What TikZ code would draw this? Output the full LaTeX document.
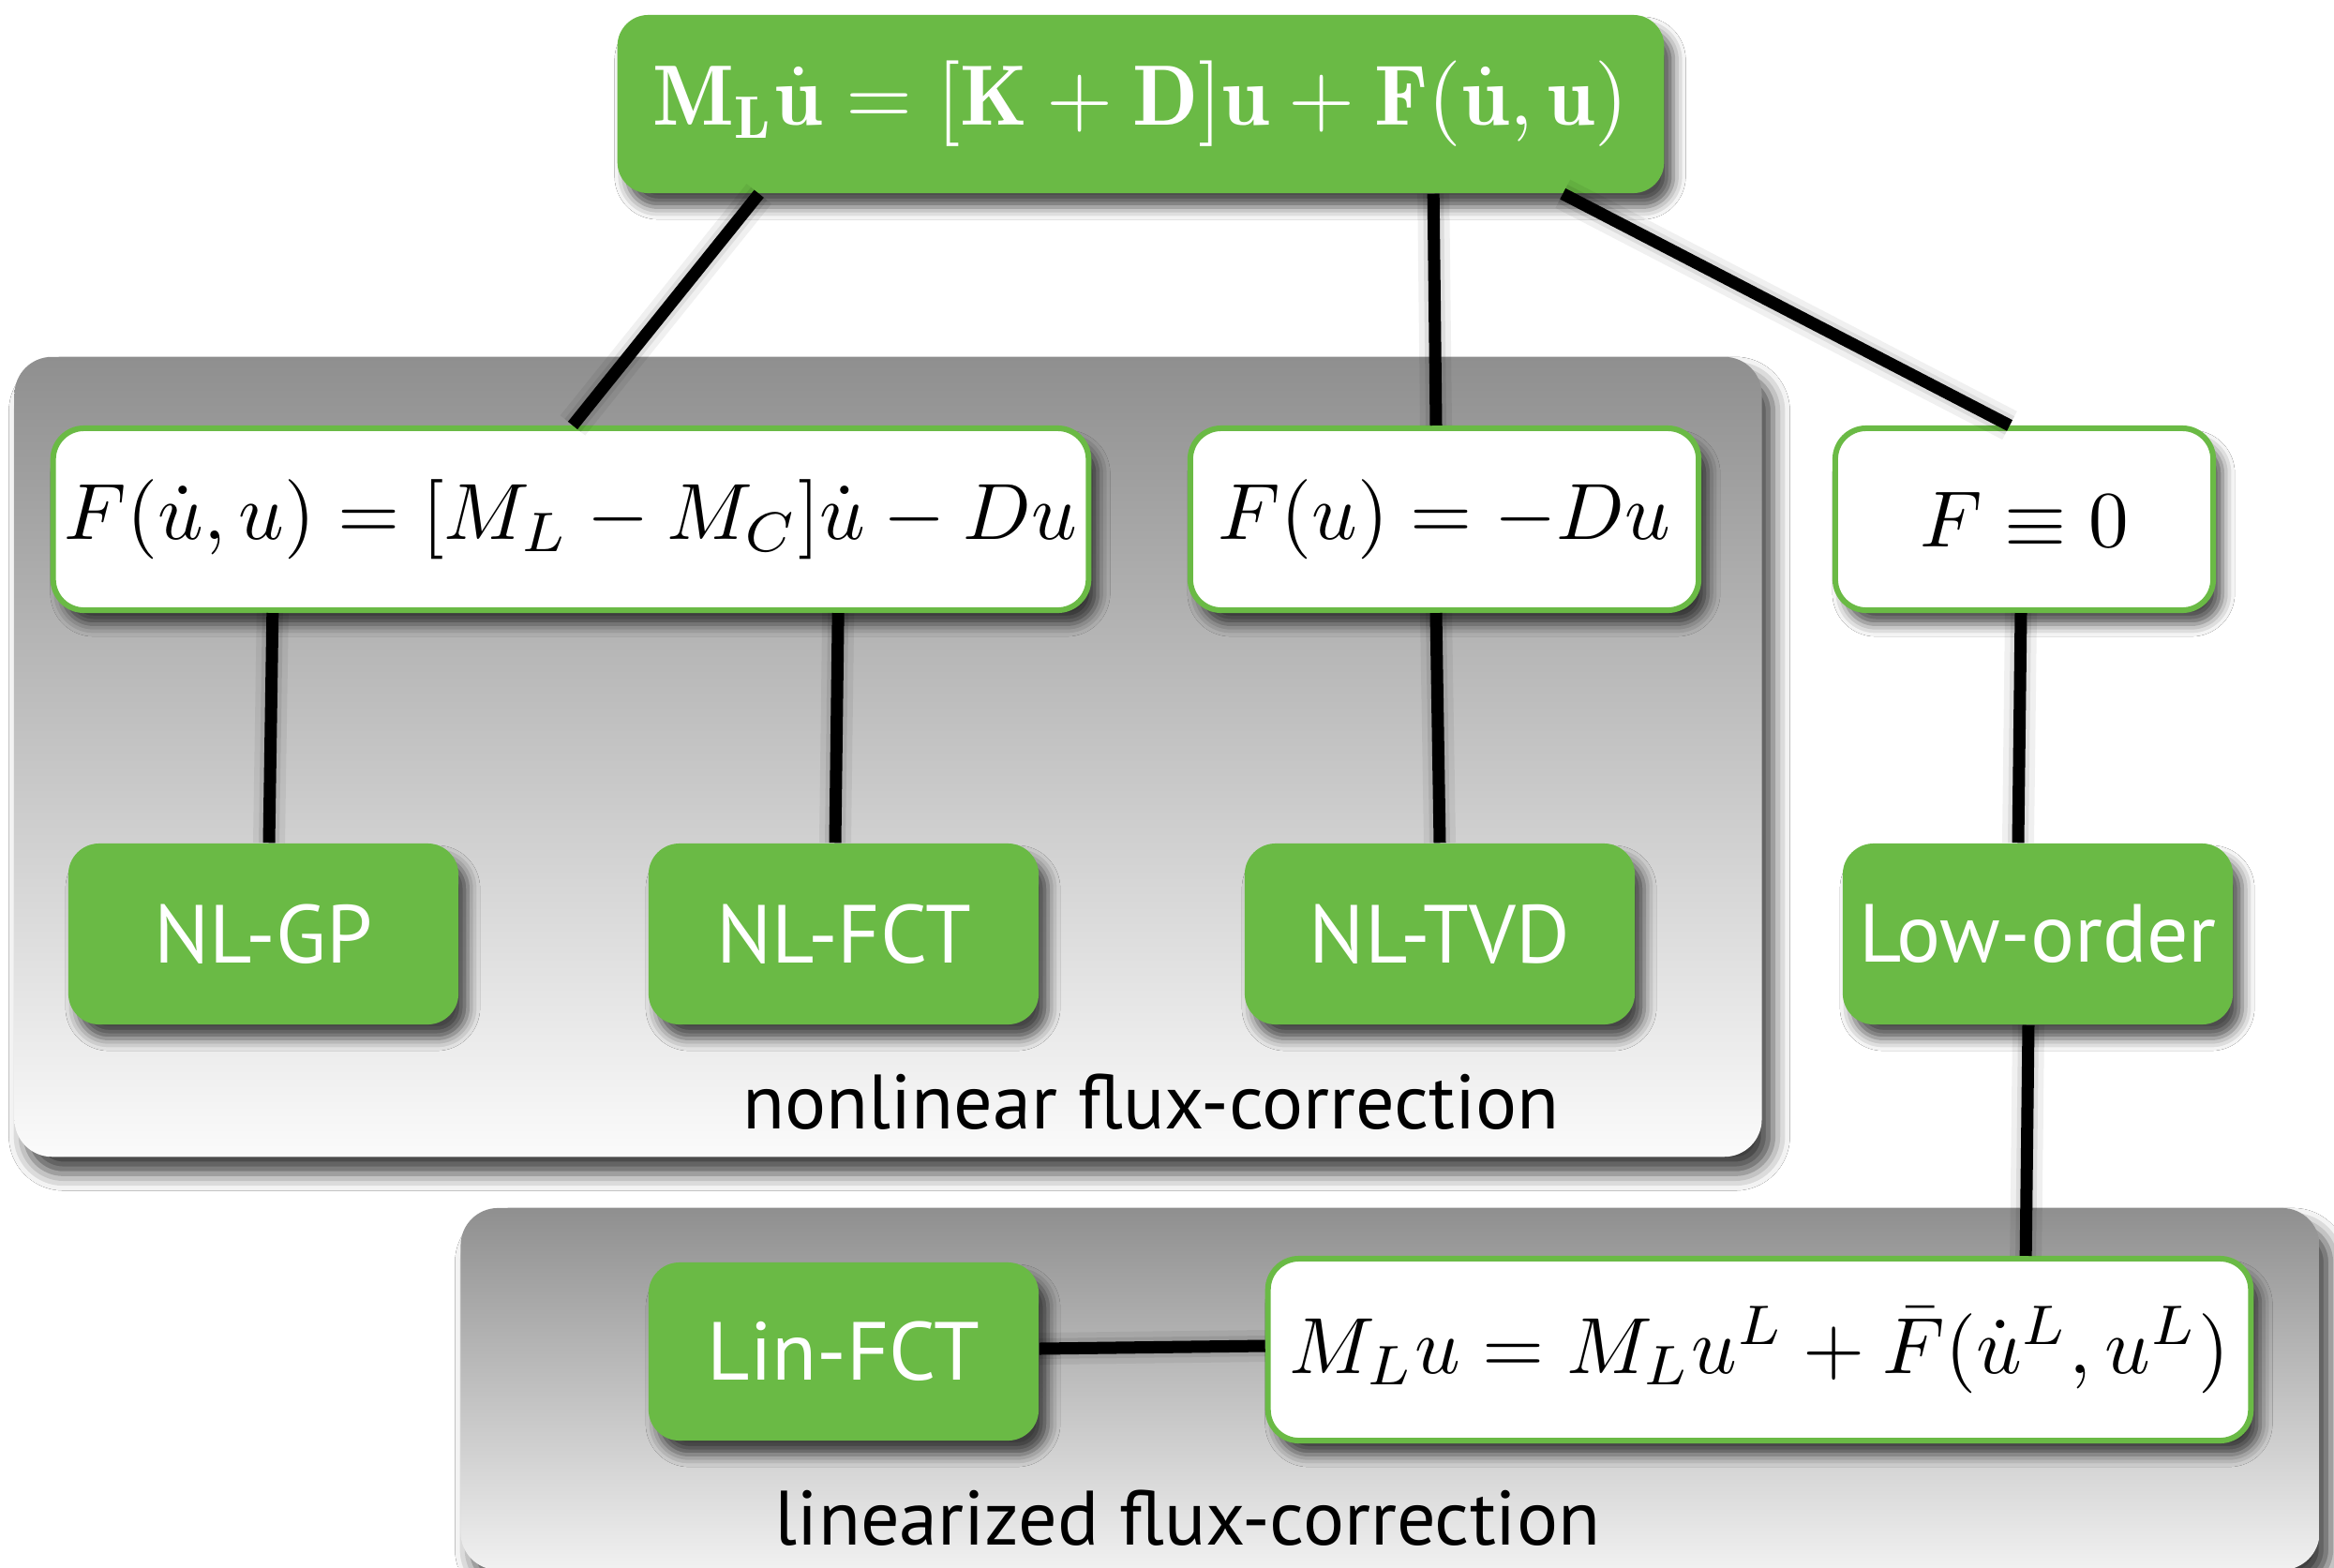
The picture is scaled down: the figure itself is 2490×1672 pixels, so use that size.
\documentclass[tikz,border=0pt]{standalone}
\usepackage{amsmath}
\usepackage{fontspec}
\setsansfont{PT Sans}
\usetikzlibrary{shadows.blur}
\definecolor{grn}{RGB}{106,186,69}
\definecolor{ptop}{RGB}{143,143,143}
\definecolor{pbot}{RGB}{251,251,251}
\newcommand{\eqs}[1]{\scalebox{2.42}{$#1$}}
\begin{document}
\begin{tikzpicture}[x=0.01cm,y=-0.01cm,
  shd/.style={blur shadow={shadow xshift=0.1cm, shadow yshift=-0.15cm, shadow blur radius=0.13cm, shadow opacity=70}},
  gbox/.style={fill=grn, rounded corners=0.33cm, shd, text=white, inner sep=0pt,
    font=\sffamily\fontsize{25}{30}\selectfont, minimum width=4.16cm, minimum height=1.93cm},
  wbox/.style={fill=white, draw=grn, line width=0.06cm, rounded corners=0.33cm, shd, inner sep=0pt, minimum height=1.94cm},
  panel/.style={rounded corners=0.4cm, top color=ptop, bottom color=pbot,
    blur shadow={shadow xshift=0.12cm, shadow yshift=-0.18cm, shadow blur radius=0.18cm, shadow opacity=75}, inner sep=0pt},
  conn/.style={line width=0.13cm, black},
  cshd/.style={line width=0.34cm, black, opacity=0.06, xshift=0.1cm, yshift=-0.1cm},
  cshd2/.style={line width=0.22cm, black, opacity=0.08, xshift=0.1cm, yshift=-0.1cm},
  ptext/.style={font=\sffamily\fontsize{23.4}{28}\selectfont, anchor=base}]
\useasboundingbox (0,0) rectangle (2490,1672);
\fill[white] (0,0) rectangle (2490,1672);
% panels
\node[panel, minimum width=18.63cm, minimum height=8.53cm] (pnl1) at (947.5,807.5) {};
\begin{scope}
\clip (0,0) rectangle (2490,1672);
\node[panel, minimum width=19.82cm, minimum height=3.86cm, bottom color=pbot!96!black] (pnl2) at (1483,1482) {};
\end{scope}
% boxes
\node[gbox, font=\fontsize{10}{12}\selectfont, minimum width=11.16cm, minimum height=1.90cm] (top) at (1217,111)
  {\scalebox{2.6}{$\mathbf{M}_{\mathbf{L}}\dot{\mathbf{u}}=[\mathbf{K}+\mathbf{D}]\mathbf{u}+\mathbf{F}(\dot{\mathbf{u}},\mathbf{u})$}};
\node[wbox, minimum width=11.04cm] (fa) at (609,554) {\eqs{F(\dot u,u)=[M_L-M_C]\dot u-Du}};
\node[wbox, minimum width=5.42cm] (fb) at (1541,554) {\eqs{F(u)=-Du}};
\node[wbox, minimum width=4.03cm] (fc) at (2159.5,554) {\eqs{F\equiv 0}};
\node[gbox] (nlgp) at (281,996.5) {NL-GP};
\node[gbox] (nlfct) at (900,996.5) {NL-FCT};
\node[gbox] (nltvd) at (1536,996.5) {NL-TVD};
\node[gbox] (low) at (2174,996.5) {Low-order};
\node[gbox, minimum height=1.90cm] (lin) at (900,1442) {Lin-FCT};
\node[wbox, minimum width=10.48cm] (fd) at (1877,1440) {\eqs{M_Lu=M_Lu^L+\bar F(\dot u^L,u^L)}};
% connectors
\foreach \s in {cshd,cshd2,conn}{
\draw[\s] ([xshift=-4.07cm]top.south) -- ([xshift=0.02cm]fa.north);
\draw[\s] ([xshift=3.12cm]top.south) -- ([xshift=-0.09cm]fb.north);
\draw[\s] ([xshift=4.5cm]top.south) -- ([xshift=-0.155cm]fc.north);
\draw[\s] ([xshift=-3.18cm]fa.south) -- ([xshift=0.06cm]nlgp.north);
\draw[\s] ([xshift=2.85cm]fa.south) -- ([xshift=-0.09cm]nlfct.north);
\draw[\s] ([xshift=-0.09cm]fb.south) -- (nltvd.north);
\draw[\s] ([xshift=-0.035cm]fc.south) -- ([xshift=-0.21cm]low.north);
\draw[\s] ([xshift=-0.1cm]low.south) -- ([xshift=2.84cm]fd.north);
\draw[\s] ([yshift=0.03cm]lin.east) -- ([yshift=0.04cm]fd.west);
}
% panel labels
\node[ptext] (lbl1) at (1228,1204) {nonlinear flux-correction};
\node[ptext] (lbl2) at (1267,1648) {linearized flux-correction};
\end{tikzpicture}
\end{document}
